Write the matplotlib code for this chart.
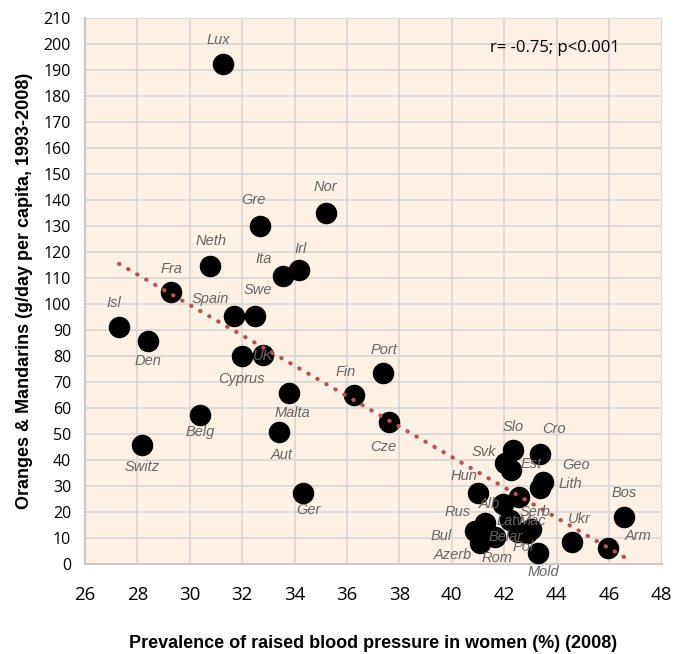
import numpy as np
import matplotlib.pyplot as plt
from matplotlib import font_manager

countries = ['Lux', 'Nor', 'Gre', 'Neth', 'Irl', 'Ita', 'Fra', 'Spain', 'Swe', 'Isl',
             'Den', 'Cyprus', 'UK', 'Port', 'Fin', 'Malta', 'Belg', 'Cze', 'Aut', 'Switz',
             'Ger', 'Slo', 'Cro', 'Svk', 'Est', 'Geo', 'Lith', 'Hun', 'Serb', 'Alb',
             'Latv', 'Mac', 'Rus', 'Bul', 'Azerb', 'Rom', 'Belar', 'Pol', 'Mold', 'Ukr',
             'Arm', 'Bos']
blood_pressure = [31.28, 35.19, 32.68, 30.78, 34.18, 33.57, 29.27, 31.69, 32.48, 27.30,
                  28.39, 31.98, 32.79, 37.39, 36.28, 33.79, 30.38, 37.59, 33.39, 28.19,
                  34.31, 42.33, 43.37, 42.03, 42.25, 43.49, 43.37, 40.99, 42.57, 41.97,
                  42.22, 43.02, 41.27, 40.89, 41.08, 41.65, 42.54, 42.85, 43.30, 44.58,
                  45.97, 46.58]
oranges = [192.2, 135.1, 130.0, 114.6, 113.1, 110.8, 104.7, 95.3, 95.5, 91.3,
           85.7, 80.0, 80.3, 73.6, 65.1, 65.7, 57.3, 54.7, 50.9, 45.8,
           27.2, 43.8, 42.2, 39.0, 36.2, 31.7, 29.1, 27.2, 25.9, 23.1,
           16.9, 13.3, 15.6, 12.8, 8.0, 10.5, 12.4, 12.0, 4.3, 8.6,
           6.3, 18.2]

# label offsets from the marker, in pixels (dx, dy up)
label_offsets = {
    'Lux': (-5, 24), 'Nor': (0, 26), 'Gre': (-7, 26), 'Neth': (1, 25), 'Irl': (1, 21),
    'Ita': (-20, 17), 'Fra': (1, 23), 'Spain': (-24, 17), 'Swe': (3, 26), 'Isl': (-5, 24),
    'Den': (0, -20), 'Cyprus': (0, -23), 'UK': (0, -1), 'Port': (1, 23), 'Fin': (-9, 23),
    'Malta': (3, -20), 'Belg': (0, -17), 'Cze': (-5, -25), 'Aut': (3, -23), 'Switz': (0, -22),
    'Ger': (6, -17), 'Slo': (0, 23), 'Cro': (14, 25), 'Svk': (-21, 11), 'Est': (20, 6),
    'Geo': (33, 17), 'Lith': (30, 4), 'Hun': (-14, 17), 'Serb': (16, -15), 'Alb': (-14, 0),
    'Latv': (0, -1), 'Mac': (1, 8), 'Rus': (-28, 11), 'Bul': (-34, -5), 'Azerb': (-27, -12),
    'Rom': (2, -21), 'Belar': (-13, -5), 'Pol': (-3, -14), 'Mold': (5, -19), 'Ukr': (7, 23),
    'Arm': (30, 12), 'Bos': (0, 24),
}

names = {f.name for f in font_manager.fontManager.ttflist}
narrow = 'Liberation Sans Narrow' if 'Liberation Sans Narrow' in names else 'Liberation Sans'

fig = plt.figure(figsize=(6.89, 6.54), dpi=100)
ax = fig.add_axes([85 / 689, 1 - 564 / 654, (661.5 - 85) / 689, (564 - 18) / 654])
ax.set_facecolor('#fdf1e6')

ax.scatter(blood_pressure, oranges, s=240, color='black', zorder=3, linewidths=0)

# linear trend line
slope, intercept = np.polyfit(blood_pressure, oranges, 1)
xs = np.array([min(blood_pressure), max(blood_pressure)])
ax.plot(xs, slope * xs + intercept, color='#c0504d', linestyle=(0, (0.1, 2.4)),
        linewidth=3, dash_capstyle='round', zorder=4)

for name, x, y in zip(countries, blood_pressure, oranges):
    dx, dy = label_offsets[name]
    ax.annotate(name, (x, y), xytext=(dx, dy), textcoords='offset pixels',
                ha='center', va='center', fontsize=10.5, style='italic',
                color='#666666', family=narrow, zorder=5)

ax.set_xlim(26, 48)
ax.set_ylim(0, 210)
ax.set_xticks(np.arange(26, 49, 2))
ax.set_yticks(np.arange(0, 211, 10))
ax.grid(True, color='#d9d9d9', linewidth=1.3, zorder=0)
ax.set_axisbelow(True)
for side in ['top', 'right']:
    ax.spines[side].set_visible(False)
for side in ['left', 'bottom']:
    ax.spines[side].set_color('#c8c8c8')
    ax.spines[side].set_linewidth(1.5)
ax.tick_params(axis='both', length=0)
ax.tick_params(axis='x', labelsize=13.5, pad=16)
ax.tick_params(axis='y', labelsize=11.5, pad=10)
for lbl in ax.get_xticklabels() + ax.get_yticklabels():
    lbl.set_family('Open Sans')

ax.set_xlabel('Prevalence of raised blood pressure in women (%) (2008)',
              fontsize=13, fontweight='bold', family=narrow, labelpad=22)
ax.set_ylabel('Oranges & Mandarins (g/day per capita, 1993-2008)',
              fontsize=13, fontweight='bold', family=narrow, labelpad=8)

ax.text(555 / 689, 1 - 48 / 654, 'r= -0.75; p<0.001', transform=fig.transFigure,
        fontsize=12, family='Open Sans', ha='center', va='center')

fig.savefig('out.png', dpi=100)
